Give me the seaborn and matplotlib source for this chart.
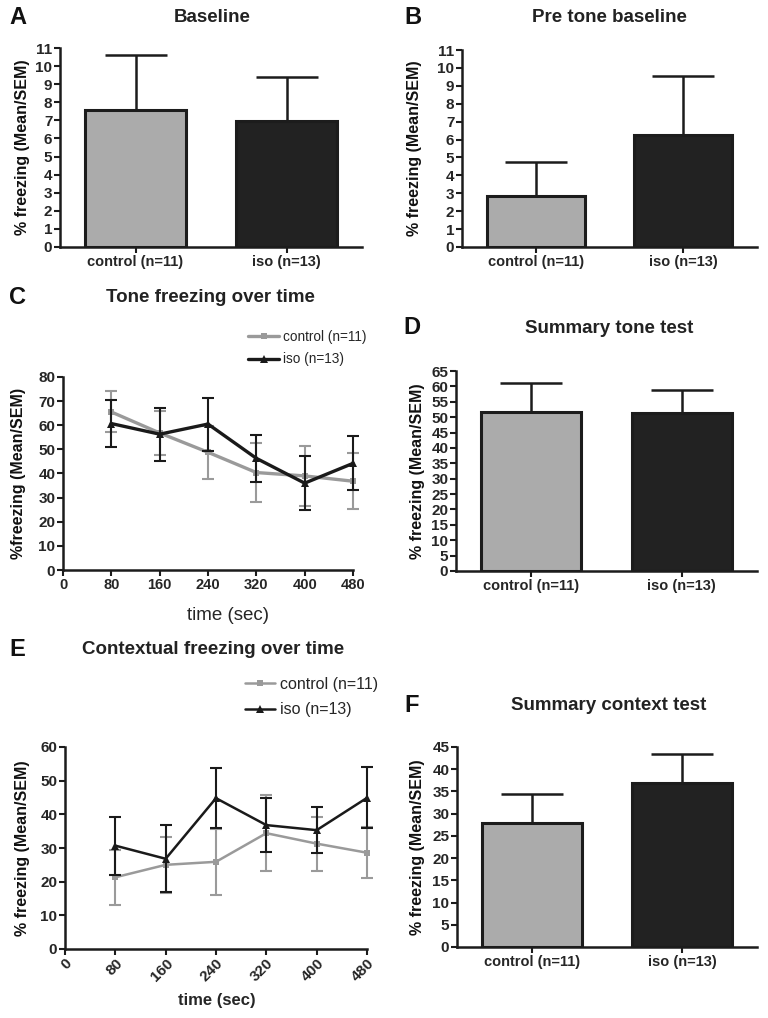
import numpy as np
import pandas as pd
import matplotlib
matplotlib.use('Agg')
import matplotlib.pyplot as plt
import seaborn as sns

# ---- values ----
groups = ['control (n=11)', 'iso (n=13)']

baseline_mean = [7.6, 6.95]
baseline_sem = [3.03, 2.44]
pretone_mean = [2.85, 6.23]
pretone_sem = [1.9, 3.3]
tone_sum_mean = [51.7, 51.2]
tone_sum_sem = [9.4, 7.5]
context_sum_mean = [28.0, 36.9]
context_sum_sem = [6.4, 6.6]

times = [80, 160, 240, 320, 400, 480]
tone_ctrl_mean = [65.5, 56.8, 48.8, 40.4, 39.0, 36.8]
tone_ctrl_sem = [8.5, 9.2, 11.0, 12.3, 12.4, 11.6]
tone_iso_mean = [60.7, 56.3, 60.5, 46.3, 36.0, 44.2]
tone_iso_sem = [9.7, 11.0, 11.0, 9.8, 11.3, 11.2]
ctx_ctrl_mean = [21.3, 25.0, 25.9, 34.4, 31.3, 28.6]
ctx_ctrl_sem = [8.2, 8.3, 9.8, 11.2, 8.0, 7.6]
ctx_iso_mean = [30.7, 26.8, 44.8, 36.8, 35.3, 44.9]
ctx_iso_sem = [8.6, 10.0, 9.0, 8.0, 6.8, 9.1]

# ---- style ----
sns.set_style('ticks')
plt.rcParams['font.family'] = ['Liberation Sans', 'DejaVu Sans']
plt.rcParams['axes.linewidth'] = 1.8

BAR_GRAY = '#ababab'
BAR_DARK = '#222222'
EDGE = '#1c1c1c'
LINE_GRAY = '#9a9a9a'
LINE_DARK = '#1a1a1a'

W, H = 768, 1018
fig = plt.figure(figsize=(W / 100, H / 100), dpi=100)


def add_ax(x0, y0, x1, y1):
    return fig.add_axes([x0 / W, 1 - y1 / H, (x1 - x0) / W, (y1 - y0) / H])


def style_axes(ax, xsize=10.5, ysize=11):
    sns.despine(ax=ax)
    ax.tick_params(axis='both', direction='out', length=4, width=1.5, pad=1.5,
                   color=EDGE)
    ax.tick_params(axis='x', labelsize=xsize)
    ax.tick_params(axis='y', labelsize=ysize)
    for lab in ax.get_xticklabels() + ax.get_yticklabels():
        lab.set_fontweight('bold')
    for sp in ax.spines.values():
        sp.set_color(EDGE)


def ylabel_at(ax, text, box, cx, size=11.5):
    ax.set_ylabel(text, fontsize=size, fontweight='bold', color='#111111')
    x0, y0, x1, y1 = box
    ax.yaxis.set_label_coords((cx + 8 - x0) / (x1 - x0), 0.5)


def bar_panel(box, means, sems, ymax, step, ylab, ylab_x):
    ax = add_ax(*box)
    sns.barplot(x=groups, y=means, hue=groups, palette=[BAR_GRAY, BAR_DARK],
                width=0.667, edgecolor=EDGE, linewidth=2.2, errorbar=None,
                legend=False, ax=ax, zorder=2)
    ax.errorbar([0, 1], means, yerr=[[0, 0], sems], fmt='none', ecolor=EDGE,
                elinewidth=1.8, capsize=22, capthick=1.8, zorder=3)
    ax.set_xlim(-0.5, 1.5)
    ax.set_ylim(0, ymax)
    ax.set_yticks(np.arange(0, ymax + 0.1, step))
    ax.set_xlabel('')
    style_axes(ax)
    ylabel_at(ax, ylab, box, ylab_x)
    return ax


def line_panel(box, ctrl_m, ctrl_s, iso_m, iso_s, ymax, lw, elw, ylab, ylab_x,
               xsize):
    ax = add_ax(*box)
    ctrl = pd.DataFrame({'time': times, 'freezing': ctrl_m})
    iso = pd.DataFrame({'time': times, 'freezing': iso_m})
    ax.errorbar(times, ctrl_m, yerr=ctrl_s, fmt='none', ecolor=LINE_GRAY,
                elinewidth=elw, capsize=4.5, capthick=elw, zorder=2, clip_on=False)
    sns.lineplot(data=ctrl, x='time', y='freezing', color=LINE_GRAY, marker='s',
                 markersize=5, markeredgewidth=0, linewidth=lw, label=groups[0],
                 ax=ax, zorder=3, clip_on=False)
    ax.errorbar(times, iso_m, yerr=iso_s, fmt='none', ecolor=LINE_DARK,
                elinewidth=elw, capsize=4.5, capthick=elw, zorder=4, clip_on=False)
    sns.lineplot(data=iso, x='time', y='freezing', color=LINE_DARK, marker='^',
                 markersize=6, markeredgewidth=0, linewidth=lw, label=groups[1],
                 ax=ax, zorder=5, clip_on=False)
    ax.set_xlim(0, 480)
    ax.set_xticks([0] + times)
    ax.set_ylim(0, ymax)
    ax.set_yticks(np.arange(0, ymax + 0.1, 10))
    style_axes(ax, xsize=xsize, ysize=11)
    ylabel_at(ax, ylab, box, ylab_x)
    return ax


def panel_text(letter, lx, ly, title, tx, ty):
    fig.text(lx / W, 1 - ly / H, letter, fontsize=17, fontweight='bold',
             ha='center', va='center', color='#111111')
    fig.text(tx / W, 1 - ty / H, title, fontsize=13.5, fontweight='bold',
             ha='center', va='center', color='#222222')


# A: Baseline
bar_panel((60, 48, 362, 247), baseline_mean, baseline_sem, 11, 1,
          '% freezing (Mean/SEM)', 22)
panel_text('A', 18, 18, 'Baseline', 212, 18)

# B: Pre tone baseline
bar_panel((462, 50, 757, 247), pretone_mean, pretone_sem, 11, 1,
          '% freezing (Mean/SEM)', 414)
panel_text('B', 413, 18, 'Pre tone baseline', 609, 18)

# C: Tone freezing over time
boxC = (63, 377, 353, 570)
axC = line_panel(boxC, tone_ctrl_mean, tone_ctrl_sem, tone_iso_mean, tone_iso_sem,
                 80, 2.4, 1.5, '%freezing (Mean/SEM)', 18, 10.5)
axC.set_xlabel('time (sec)', fontsize=13.5)
axC.xaxis.set_label_coords((228 - boxC[0]) / (boxC[2] - boxC[0]),
                           (boxC[3] - 607) / (boxC[3] - boxC[1]))
axC.legend(loc='upper left', bbox_to_anchor=(248 / W, 1 - 330 / H),
           bbox_transform=fig.transFigure, frameon=False, fontsize=9.8,
           handlelength=2.3, handletextpad=0.25, labelspacing=0.62,
           borderpad=0, borderaxespad=0)
panel_text('C', 17, 297, 'Tone freezing over time', 210, 297)

# D: Summary tone test
bar_panel((456, 371, 757, 571), tone_sum_mean, tone_sum_sem, 65, 5,
          '% freezing (Mean/SEM)', 417)
panel_text('D', 412, 327, 'Summary tone test', 609, 328)

# E: Contextual freezing over time
boxE = (65, 747, 367, 949)
axE = line_panel(boxE, ctx_ctrl_mean, ctx_ctrl_sem, ctx_iso_mean, ctx_iso_sem,
                 60, 1.8, 1.5, '% freezing (Mean/SEM)', 22, 11)
for lab in axE.get_xticklabels():
    lab.set_rotation(45)
    lab.set_ha('right')
    lab.set_rotation_mode('anchor')
axE.set_xlabel('time (sec)', fontsize=12, fontweight='bold')
axE.xaxis.set_label_coords((217 - boxE[0]) / (boxE[2] - boxE[0]),
                           (boxE[3] - 993) / (boxE[3] - boxE[1]))
axE.legend(loc='upper left', bbox_to_anchor=(245 / W, 1 - 677 / H),
           bbox_transform=fig.transFigure, frameon=False, fontsize=11.5,
           handlelength=1.9, handletextpad=0.3, labelspacing=0.65,
           borderpad=0, borderaxespad=0)
panel_text('E', 17, 650, 'Contextual freezing over time', 213, 650)

# F: Summary context test
bar_panel((457, 747, 757, 947), context_sum_mean, context_sum_sem, 45, 5,
          '% freezing (Mean/SEM)', 417)
panel_text('F', 412, 705, 'Summary context test', 609, 705)

fig.savefig('out.png', dpi=100)
